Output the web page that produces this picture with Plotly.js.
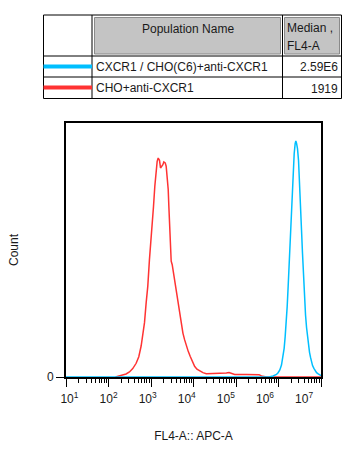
<!DOCTYPE html>
<html><head><meta charset="utf-8">
<script src="https://cdn.plot.ly/plotly-3.0.1.min.js"></script>
<style>html,body{margin:0;padding:0;background:#fff;}#chart{width:362px;height:454px;}</style>
</head><body><div id="chart"></div>
<script>
// ---------- data ----------
const populationNames = ['CXCR1 / CHO(C6)+anti-CXCR1', 'CHO+anti-CXCR1'];
const tableHeaders = ['Population Name', 'Median ,', 'FL4-A'];
const medianValues = ['2.59E6', '1919'];
const seriesColors = ['#00BFFF', '#FF3333'];

const xTickValues = [1e1, 1e2, 1e3, 1e4, 1e5, 1e6, 1e7];
const xTickLabels = ['10<sup>1</sup>', '10<sup>2</sup>', '10<sup>3</sup>', '10<sup>4</sup>', '10<sup>5</sup>', '10<sup>6</sup>', '10<sup>7</sup>'];
const yTickValues = [0];
const yTickLabels = ['0'];

// CHO+anti-CXCR1 (red)
const choFL4 = [146, 216, 259, 311, 372, 447, 516, 586, 641, 703,
  769, 841, 920, 1009, 1064, 1146, 1230, 1324, 1396, 1476,
  1585, 1675, 1766, 1901, 2004, 2158, 2275, 2404, 2541, 2630,
  2729, 2884, 2985, 3155, 3388, 3648, 3917, 4217, 4529, 4875,
  5236, 5636, 6166, 6745, 7516, 8395, 9354, 10617, 12050, 13932,
  16672, 19999, 28708, 49431, 59293, 68549, 77804, 93111, 175792, 349140,
  396278, 519996, 1e7];
const choCount = [0, 0.7, 1.2, 2.0, 3.3, 5.4, 8.0, 12.2, 16.1, 21.4,
  29.2, 35.8, 46.3, 54.1, 60.6, 67.2, 75.1, 81.0, 84.9, 86.2,
  85.3, 82.3, 82.7, 83.6, 84.7, 84.3, 83.0, 79.0, 73.8, 67.2,
  59.3, 51.5, 45.6, 44.2, 40.9, 38.3, 34.3, 30.4, 26.5, 23.9,
  20.0, 17.3, 14.7, 12.1, 10.1, 8.1, 6.2, 4.2, 3.1, 2.4,
  1.7, 1.3, 1.4, 1.4, 1.6, 1.8, 1.4, 1.0, 1.0, 0.9,
  0.4, 0, 0];

// CXCR1 / CHO(C6)+anti-CXCR1 (blue)
const cxcrFL4 = [10, 600000, 746000, 895000, 979000, 1074000, 1175000, 1285000, 1358000, 1435000,
  1514000, 1600000, 1687000, 1782000, 1879000, 1986000, 2099000, 2213000, 2339000, 2466000,
  2559000, 2655000, 2799000, 2958000, 3126000, 3296000, 3483000, 3673000, 3882000, 4102000,
  4325000, 4571000, 4819000, 5093000, 5370000, 5675000, 5998000, 6324000, 6808000, 7311000,
  7870000, 8610000, 9419000, 1e7];
const cxcrCount = [0, 0, 0.4, 1.0, 1.7, 2.8, 4.7, 8.0, 11.3, 15.9,
  21.1, 27.7, 35.6, 44.8, 53.9, 63.0, 72.2, 81.4, 87.9, 91.9,
  92.9, 92.1, 89.9, 85.3, 77.5, 68.3, 57.8, 48.6, 39.4, 31.5,
  24.4, 19.5, 15.6, 12.3, 9.7, 7.7, 5.8, 4.5, 3.4, 2.5,
  1.7, 1.2, 0.8, 0.5];

// ---------- layout helpers ----------
const W = 362, H = 454, ML = 66, MR = 41, MT = 123, MB = 77;
const PW = W - ML - MR, PH = H - MT - MB;
const px = x => (x - ML) / PW;
const py = y => (H - MB - y) / PH;
const FONT = 'Liberation Sans, Arial, Helvetica, sans-serif';
const TXT = '#1a1a1a';

const traces = [
  {x: choFL4, y: choCount, type: 'scatter', mode: 'lines', name: populationNames[1],
   line: {color: seriesColors[1], width: 1.5}, hoverinfo: 'skip'},
  {x: cxcrFL4, y: cxcrCount, type: 'scatter', mode: 'lines', name: populationNames[0],
   line: {color: seriesColors[0], width: 1.5}, hoverinfo: 'skip'},
  // empty trace: only registers the label axis (no marks)
  {x: [], y: [], type: 'scatter', mode: 'lines', xaxis: 'x2', yaxis: 'y', hoverinfo: 'skip', showlegend: false}
];

// table (drawn with shapes + annotations)
const tL = 43.5, tR = 341.5, tT = 15, tB = 98.5, c1 = 92, c2 = 282.5, r1 = 56, r2 = 77;
const rowY = [66.5, 87.5];
const shapes = [];
const line = (x0, y0, x1, y1, color, width) => shapes.push({type: 'line', xref: 'paper', yref: 'paper',
  x0: px(x0), y0: py(y0), x1: px(x1), y1: py(y1), line: {color: color, width: width}});
shapes.push({type: 'rect', xref: 'paper', yref: 'paper', x0: px(94.5), x1: px(280.5), y0: py(17.5), y1: py(54),
  fillcolor: '#C4C4C4', line: {color: '#8a8a8a', width: 1}});
shapes.push({type: 'rect', xref: 'paper', yref: 'paper', x0: px(284.5), x1: px(339.5), y0: py(17.5), y1: py(54),
  fillcolor: '#C4C4C4', line: {color: '#8a8a8a', width: 1}});
line(tL, tT, tR, tT, '#000', 1);
line(tL, tB, tR, tB, '#000', 1);
line(tL, tT, tL, tB, '#000', 1);
line(tR, tT, tR, tB, '#000', 1);
line(c1, tT, c1, tB, '#000', 1);
line(c2, tT, c2, tB, '#000', 1);
line(tL, r1, tR, r1, '#000', 1);
line(tL, r2, tR, r2, '#000', 1);
populationNames.forEach((n, i) => line(tL, rowY[i], c1, rowY[i], seriesColors[i], 4));

const annotations = [];
const ann = (text, x, y, xanchor) => annotations.push({text: text, x: px(x), y: py(y), xref: 'paper', yref: 'paper',
  xanchor: xanchor, yanchor: 'middle', showarrow: false, font: {family: FONT, size: 12, color: TXT}});
ann(tableHeaders[0], 187.5, 29, 'center');
ann(tableHeaders[1], 284.5, 28, 'left');
ann(tableHeaders[2], 284.5, 46, 'left');
populationNames.forEach((n, i) => {
  ann(n, 93.5, rowY[i] + 0.5, 'left');
  ann(medianValues[i], 340, rowY[i] + 1, 'right');
});

const layout = {
  width: W, height: H,
  margin: {l: ML, r: MR, t: MT, b: MB, pad: 0},
  paper_bgcolor: '#fff', plot_bgcolor: '#fff',
  showlegend: false,
  font: {family: FONT, size: 12, color: TXT},
  xaxis: {
    type: 'log', range: [1, 7], fixedrange: true,
    showline: true, linecolor: '#000', linewidth: 2, mirror: true,
    showgrid: false, zeroline: false,
    ticks: 'outside', ticklen: 8, tickwidth: 1, tickcolor: '#000',
    tickmode: 'array', tickvals: xTickValues, showticklabels: false,
    minor: {dtick: 'D1', ticks: 'outside', ticklen: 4, tickwidth: 1, tickcolor: '#000', showgrid: false},
    title: {text: 'FL4-A:: APC-A', font: {family: FONT, size: 12, color: TXT}, standoff: 46}
  },
  xaxis2: {
    type: 'log', range: [0.912, 7.432], overlaying: 'x', anchor: 'y', side: 'bottom', fixedrange: true,
    showline: false, showgrid: false, zeroline: false,
    ticks: 'outside', ticklen: 11, tickwidth: 0, tickcolor: 'rgba(0,0,0,0)',
    tickmode: 'array', tickvals: xTickValues, ticktext: xTickLabels,
    tickfont: {family: FONT, size: 12, color: TXT}
  },
  yaxis: {
    range: [0, 100], fixedrange: true,
    showline: true, linecolor: '#000', linewidth: 2, mirror: true,
    showgrid: false, zeroline: false,
    ticks: 'outside', ticklen: 8, tickwidth: 1, tickcolor: '#000',
    tickmode: 'array', tickvals: yTickValues, ticktext: yTickLabels,
    tickfont: {family: FONT, size: 12, color: TXT},
    title: {text: 'Count', font: {family: FONT, size: 12, color: TXT}, standoff: 26}
  },
  shapes: shapes,
  annotations: annotations
};

Plotly.newPlot('chart', traces, layout, {staticPlot: true, displayModeBar: false});
</script>
</body></html>
